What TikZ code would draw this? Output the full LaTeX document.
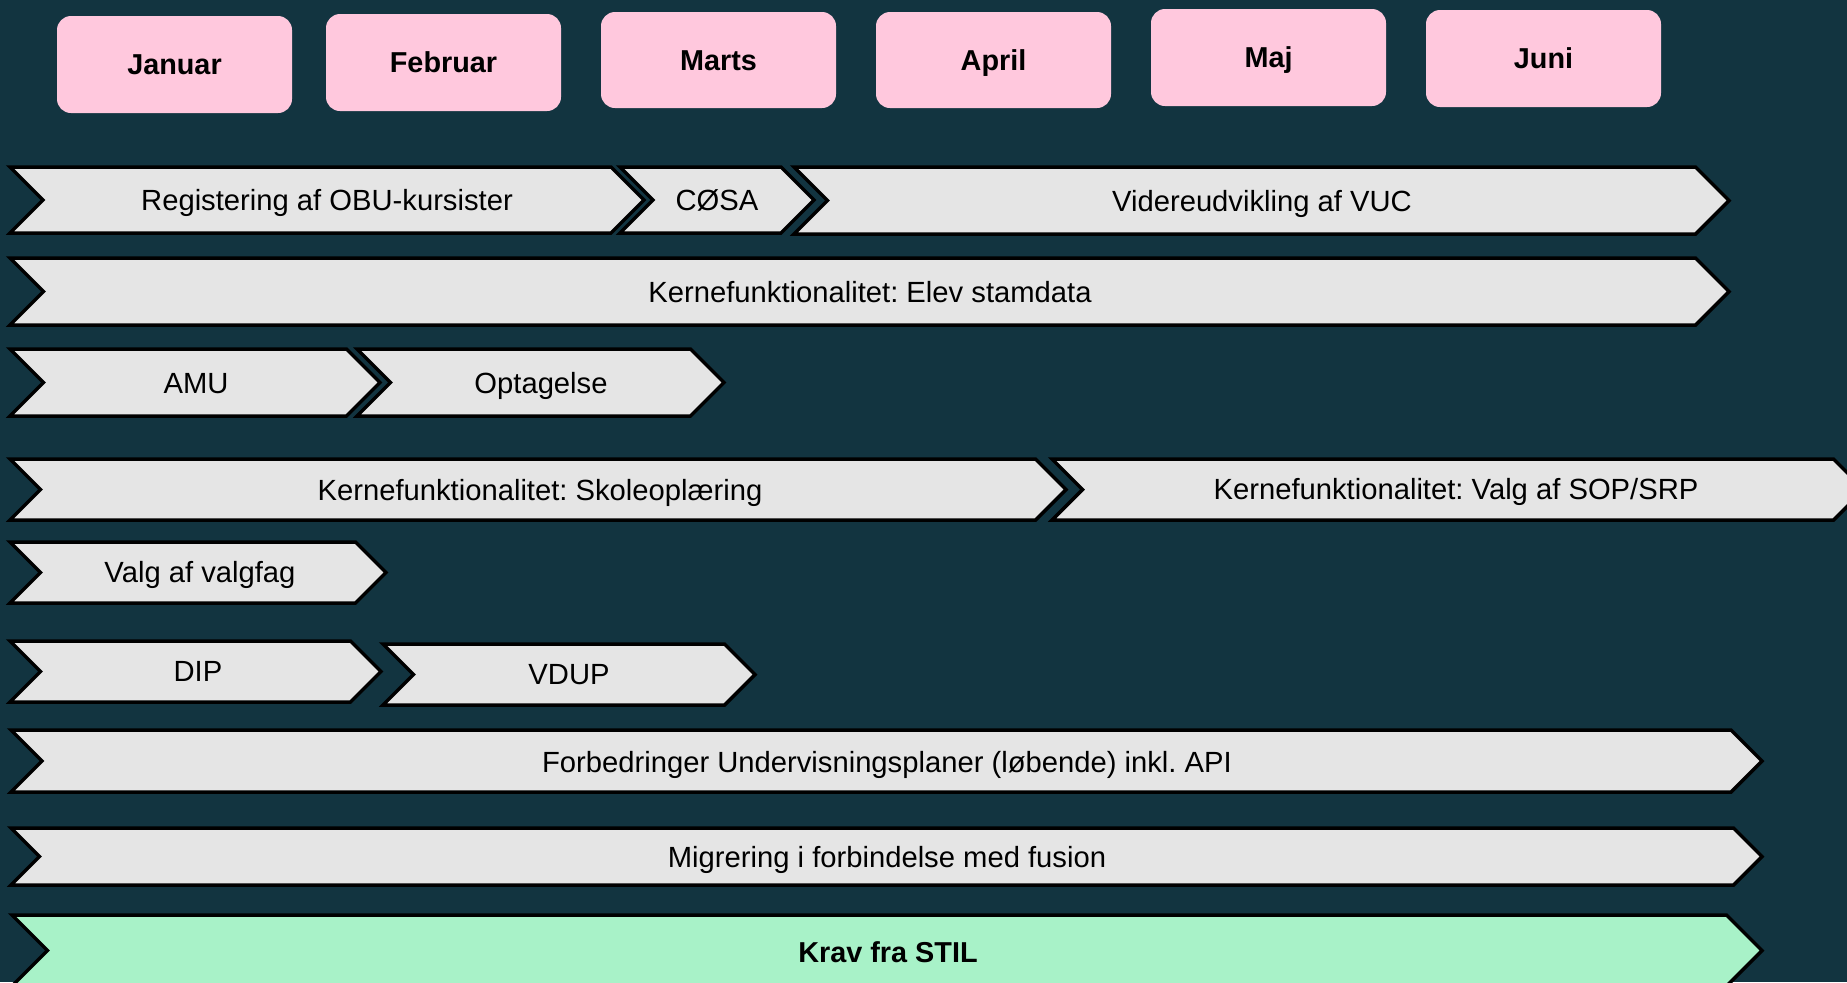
\documentclass[tikz,border=0pt]{standalone}
\usepackage{fontspec}
\setmainfont{Liberation Sans}
\frenchspacing
\definecolor{bgteal}{RGB}{18,52,64}
\definecolor{monthpink}{RGB}{255,200,221}
\definecolor{chevgrey}{RGB}{229,229,229}
\definecolor{chevgreen}{RGB}{168,242,200}
\tikzset{
  monthbox/.style={fill=monthpink, rounded corners=7pt},
  monthtext/.style={font=\fontsize{14.4}{17}\selectfont\bfseries, text=black, inner sep=0pt, text height=10.4pt, text depth=0pt},
  chevshape/.style={draw=black, line width=1.75pt, line join=miter, fill=chevgrey},
  chevgreenshape/.style={chevshape, fill=chevgreen},
  chevtext/.style={font=\fontsize{14.6}{17}\selectfont, text=black, inner sep=0pt, text height=10.5pt, text depth=0pt},
  chevbold/.style={chevtext, font=\fontsize{14.4}{17}\selectfont\bfseries},
}
% \mychev{style}{x1}{x2}{ytop}{ybot}
\newcommand{\mychev}[5]{%
  \pgfmathsetmacro{\ymid}{(#4+#5)/2}%
  \pgfmathsetmacro{\dd}{(#5-#4)/2}%
  \path[#1] (#2,#4) -- ({#3-\dd},#4) -- (#3,\ymid) -- ({#3-\dd},#5) -- (#2,#5) -- ({#2+\dd},\ymid) -- cycle;%
}
\begin{document}
\begin{tikzpicture}[x=0.5pt,y=-0.5pt]
\fill[bgteal] (0,0) rectangle (1847,982);
\useasboundingbox (0,0) rectangle (1847,982);
\clip (0,0) rectangle (1847,982);

% months
\foreach \nm/\xa/\xb/\ya/\yb/\lbl in {jan/57/292/16/113/Januar, feb/326/561/14/111/Februar, mar/601/836/12/108/Marts, apr/876/1111/12/108/April, maj/1151/1386/9/106/Maj, jun/1426/1661/10/107/Juni}{
  \path[monthbox] (\xa,\ya) rectangle (\xb,\yb);
  \node[monthtext] (\nm) at ({(\xa+\xb)/2},{(\ya+\yb)/2}) {\lbl};
}

% row 1
\mychev{chevshape}{10}{644}{167}{233}
\node[chevtext] (obu) at (327,200) {Registering af OBU-kursister};
\mychev{chevshape}{620}{814}{167}{233}
\node[chevtext] (cosa) at (717,200) {CØSA};
\mychev{chevshape}{794}{1729}{167}{234}
\node[chevtext] (vuc) at (1262,201) {Videreudvikling af VUC};

% row 2
\mychev{chevshape}{10}{1729}{258}{325}
\node[chevtext] (elev) at (870,292) {Kernefunktionalitet: Elev stamdata};

% row 3
\mychev{chevshape}{10}{380}{349}{416}
\node[chevtext] (amu) at (196,383) {AMU};
\mychev{chevshape}{357}{724}{349}{416}
\node[chevtext] (optag) at (541,383) {Optagelse};

% row 4
\mychev{chevshape}{10}{1066}{459}{520}
\node[chevtext] (skole) at (540,490) {Kernefunktionalitet: Skoleoplæring};
\mychev{chevshape}{1052}{1864}{459}{520}
\node[chevtext] (sop) at (1456,489) {Kernefunktionalitet: Valg af SOP/SRP};

% row 5
\mychev{chevshape}{10}{386}{542}{603}
\node[chevtext] (valgfag) at (200,572) {Valg af valgfag};

% row 6
\mychev{chevshape}{10}{381}{641}{702}
\node[chevtext] (dip) at (198,671) {DIP};
\mychev{chevshape}{383}{755}{644}{705}
\node[chevtext] (vdup) at (569,674) {VDUP};

% row 7
\mychev{chevshape}{11}{1762}{730}{792}
\node[chevtext] (forb) at (887,762) {Forbedringer Undervisningsplaner (løbende) inkl. API};

% row 8
\mychev{chevshape}{11}{1762}{828}{885}
\node[chevtext] (migr) at (887,857) {Migrering i forbindelse med fusion};

% row 9
\mychev{chevgreenshape}{12}{1762}{915}{986}
\node[chevbold] (krav) at (888,952) {Krav fra STIL};
\end{tikzpicture}
\end{document}
